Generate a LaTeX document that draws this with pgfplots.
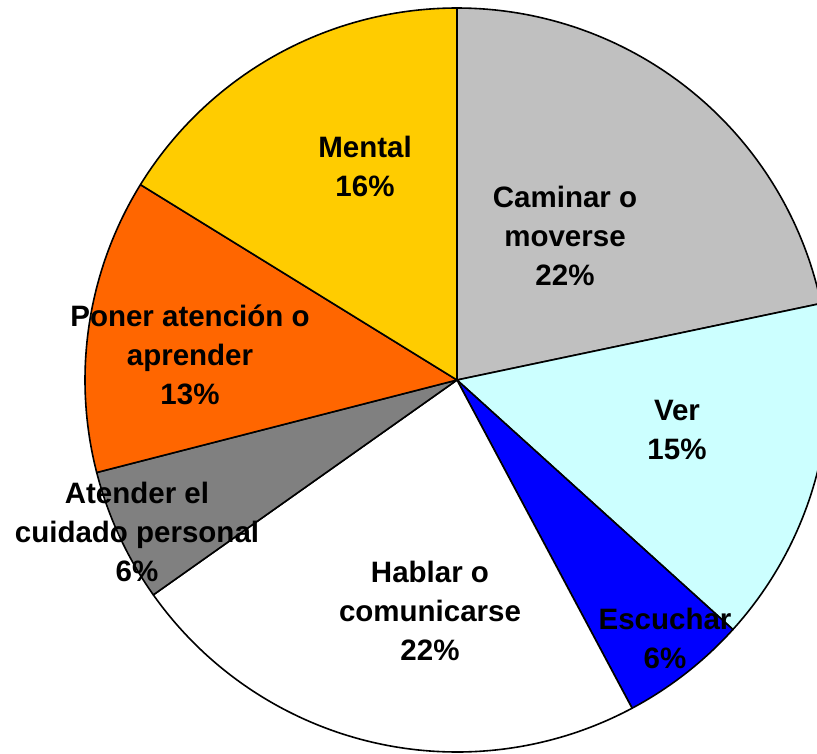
\documentclass[border=0pt]{standalone}
\usepackage{pgfplots}
\pgfplotsset{compat=1.18}
\usepackage{fontspec}
\setmainfont{Liberation Sans}
\definecolor{cCam}{HTML}{C0C0C0}
\definecolor{cVer}{HTML}{CCFFFF}
\definecolor{cEsc}{HTML}{0000FF}
\definecolor{cHab}{HTML}{FFFFFF}
\definecolor{cAte}{HTML}{808080}
\definecolor{cPon}{HTML}{FF6600}
\definecolor{cMen}{HTML}{FFCC00}
% slice: start percent, end percent, colour
\newcommand{\slice}[3]{%
  \addplot[draw=black, line width=1.6pt, line join=round, fill=#3, domain={3.6*#1}:{3.6*#2}, samples=120]
    ({457+372*sin(x)},{380-372*cos(x)}) -- (axis cs:457,380) -- cycle;}
\newcommand{\lab}[3]{%
  \node[align=center, inner sep=0pt, font=\fontsize{29.5}{39}\selectfont\bfseries] at (axis cs:#1,#2) {#3};}
\begin{document}
\begin{tikzpicture}
\begin{axis}[
  scale only axis, width=817pt, height=753pt,
  xmin=0, xmax=817, ymin=0, ymax=753, y dir=reverse,
  hide axis, clip=true,
]
% percentages (cumulative): Caminar 21.7, Ver 15.0, Escuchar 5.5, Hablar 23.0, Atender 5.8, Poner 12.8, Mental 16.2
\slice{0}{21.7}{cCam}
\slice{21.7}{36.7}{cVer}
\slice{36.7}{42.2}{cEsc}
\slice{42.2}{65.2}{cHab}
\slice{65.2}{71.0}{cAte}
\slice{71.0}{83.8}{cPon}
\slice{83.8}{100}{cMen}
\lab{365}{166}{Mental\\16\%}
\lab{565}{236}{Caminar o\\moverse\\22\%}
\lab{677}{430}{Ver\\15\%}
\lab{665}{638}{Escuchar\\6\%}
\lab{430}{611}{Hablar o\\comunicarse\\22\%}
\lab{137}{532}{Atender el\\cuidado personal\\6\%}
\lab{190}{355}{Poner atención o\\aprender\\13\%}
\end{axis}
\pgfresetboundingbox
\useasboundingbox (current axis.south west) rectangle (current axis.north east);
\end{tikzpicture}
\end{document}
